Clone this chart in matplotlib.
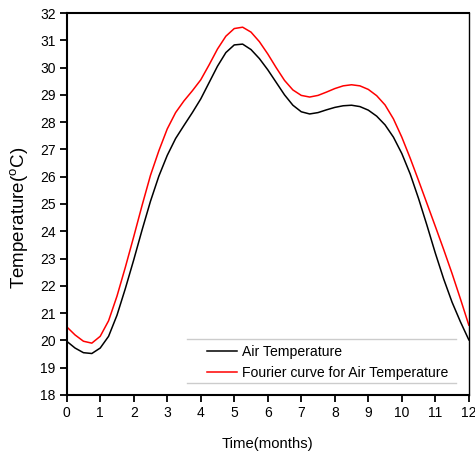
import numpy as np
import matplotlib
matplotlib.use("Agg")
import matplotlib.pyplot as plt
from matplotlib.lines import Line2D

plt.rcParams['font.family'] = ['Liberation Sans', 'DejaVu Sans']
plt.rcParams['mathtext.fontset'] = 'custom'
plt.rcParams['mathtext.rm'] = 'Liberation Sans'
plt.rcParams['mathtext.it'] = 'Liberation Sans'

# monthly air temperature, sampled every quarter month
months = np.arange(0, 12.01, 0.25)
air_temp = [19.97, 19.72, 19.55, 19.52, 19.72, 20.15, 20.92, 21.90,
            22.95, 24.05, 25.10, 26.02, 26.78, 27.40, 27.88, 28.35,
            28.85, 29.45, 30.05, 30.55, 30.83, 30.86, 30.66, 30.33,
            29.92, 29.46, 29.00, 28.62, 28.38, 28.30, 28.35, 28.45,
            28.54, 28.60, 28.62, 28.57, 28.44, 28.22, 27.90, 27.45,
            26.85, 26.10, 25.20, 24.22, 23.20, 22.25, 21.40, 20.68,
            20.02]
fourier_temp = [20.50, 20.20, 19.97, 19.90, 20.15, 20.72, 21.62, 22.68,
                23.80, 24.95, 26.05, 26.95, 27.75, 28.35, 28.78, 29.15,
                29.55, 30.10, 30.68, 31.15, 31.43, 31.48, 31.30, 30.95,
                30.50, 30.00, 29.53, 29.18, 28.98, 28.92, 28.98, 29.10,
                29.23, 29.33, 29.37, 29.33, 29.20, 28.97, 28.63, 28.12,
                27.45, 26.68, 25.86, 25.02, 24.18, 23.33, 22.45, 21.52,
                20.56]

fig = plt.figure(figsize=(4.75, 4.58), dpi=100)
ax = fig.add_axes([0.1404, 0.1376, 0.8466, 0.834])

l1, = ax.plot(months, air_temp, color='black', lw=1.1)
l2, = ax.plot(months, fourier_temp, color='red', lw=1.1)

ax.set_xlim(0, 12)
ax.set_ylim(18, 32)
ax.set_xticks(np.arange(0, 13, 1))
ax.set_yticks(np.arange(18, 33, 1))
ax.tick_params(direction='out', length=5, width=1.3, labelsize=10, pad=3)
for side in ['left', 'bottom', 'top']:
    ax.spines[side].set_linewidth(1.5)
ax.spines['right'].set_linewidth(1.0)

ax.set_xlabel('Time(months)', fontsize=10.7, labelpad=12)
ax.set_ylabel('Temperature($^{o}$C)', fontsize=13.5)
ax.yaxis.set_label_coords(-0.091, 0.463)

leg = ax.legend([l1, l2], ['Air Temperature', 'Fourier curve for Air Temperature'],
                loc='lower left', bbox_to_anchor=(0.349, 0.04), frameon=False,
                fontsize=10.1, handlelength=2.16, handletextpad=0.3,
                labelspacing=0.5, borderaxespad=0, borderpad=0)

# gray rules above and below the legend
for yy in [0.1466, 0.0314]:
    ax.add_line(Line2D([0.30, 0.968], [yy, yy], transform=ax.transAxes,
                       color='#cccccc', lw=1.0))

fig.savefig('out.png', dpi=100)
